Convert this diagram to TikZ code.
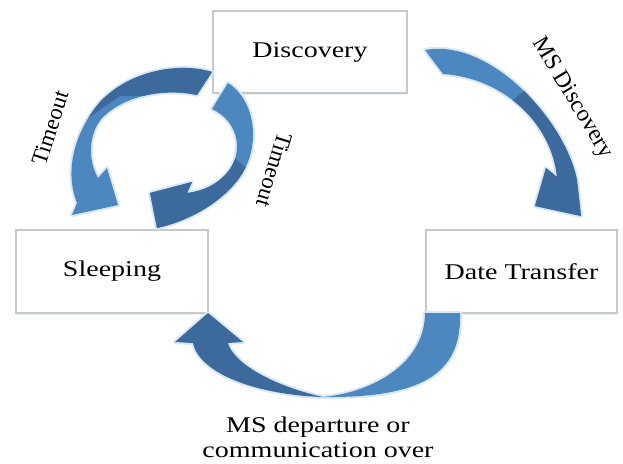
\documentclass[tikz,border=0pt]{standalone}
\usepackage{fontspec}
\usepackage{graphicx}
\setmainfont{Liberation Serif}
\usetikzlibrary{shadows}
\definecolor{arrlight}{RGB}{76,135,192}
\definecolor{arrdark}{RGB}{60,106,156}
\definecolor{glowc}{RGB}{218,231,245}
\definecolor{boxline}{RGB}{200,200,200}
\newcommand{\stretchtxt}[1]{\scalebox{1.245}[1]{#1}}
% arrow outlines (pixel coordinates, y downwards)
\newcommand{\pathA}{(212,72) .. controls (180,62) and (130,70) .. (100,102) .. controls (80,125) and (62,165) .. (77,203) -- (72,215) -- (118,205) -- (107,168) -- (98,178) .. controls (88,160) and (88,135) .. (102,118) .. controls (125,95) and (165,88) .. (197,95) -- cycle}
\newcommand{\pathB}{(228,83) .. controls (255,100) and (262,145) .. (240,177) .. controls (220,205) and (185,222) .. (157,228) -- (150,193) -- (192,182) -- (187,193) .. controls (215,190) and (238,170) .. (237,145) .. controls (236,127) and (225,115) .. (212,109) -- cycle}
\newcommand{\pathC}{(425,50) .. controls (490,38) and (565,120) .. (577,180) -- (581,216) -- (535,206) -- (546,168) -- (557,177) .. controls (552,125) and (505,78) .. (443,74) -- cycle}
\newcommand{\pathDl}{(425,313) -- (460,313) .. controls (462,375) and (420,398) .. (323,397) .. controls (375,392) and (425,362) .. (425,313) -- cycle}
\newcommand{\pathDd}{(323,397) .. controls (260,395) and (200,375) .. (193,343) -- (175,342) -- (208,313) -- (243,342) -- (228,343) .. controls (233,362) and (270,385) .. (323,397) -- cycle}
\begin{document}
\begin{tikzpicture}[x=1pt,y=-1pt,
  stbox/.style={draw=boxline, line width=1.2pt, fill=white, minimum width=#1,
    minimum height=83pt, inner sep=0pt, font=\fontsize{22.5}{27}\selectfont,
    drop shadow={shadow xshift=0pt, shadow yshift=-2pt, opacity=0.18, fill=arrlight!60}},
  lbl/.style={font=\fontsize{22.5}{25}\selectfont, xscale=1.245, inner sep=0pt},
  rlbl/.style={font=\fontsize{22.8}{25}\selectfont, inner sep=0pt},
  halo/.style={draw=glowc, line width=4pt, line join=round},
  lightfill/.style={fill=arrlight},
  darkfill/.style={fill=arrdark}]
\useasboundingbox (0,0) rectangle (623,463);
\fill[white] (0,0) rectangle (623,463);

% state boxes
\node[stbox=194pt, minimum height=82pt] (disc) at (310,52) {\stretchtxt{Discovery}};
\node[stbox=192pt] (sleep) at (112,271.5) {\stretchtxt{Sleeping}};
\node[stbox=191pt] (dt) at (521.5,271.5) {\stretchtxt{Date Transfer}};

% arrow A: left Timeout (Discovery -> Sleeping)
\path[halo] \pathA;
\fill[lightfill] \pathA;
\begin{scope}
  \clip (40,30) -- (240,30) -- (240,96) -- (120,96) -- (88,118) -- (40,118) -- cycle;
  \fill[darkfill] \pathA;
\end{scope}

% arrow B: right Timeout
\path[halo] \pathB;
\fill[lightfill] \pathB;
\begin{scope}
  \clip (130,150) -- (225,150) -- (270,188) -- (270,240) -- (130,240) -- cycle;
  \fill[darkfill] \pathB;
\end{scope}

% arrow C: MS Discovery (Discovery -> Date Transfer)
\path[halo] \pathC;
\fill[lightfill] \pathC;
\begin{scope}
  \clip (500,110) -- (545,75) -- (620,75) -- (620,240) -- (500,240) -- cycle;
  \fill[darkfill] \pathC;
\end{scope}

% arrow D: Date Transfer -> Sleeping
\path[halo] \pathDl;
\path[halo] \pathDd;
\fill[lightfill] \pathDl;
\fill[darkfill] \pathDd;

% labels
\node[rlbl, rotate=72] (tl) at (50,128) {Timeout};
\node[rlbl, rotate=-107] (tr) at (274,170) {Timeout};
\node[rlbl, font=\fontsize{23.5}{25}\selectfont, rotate=-59] (msd) at (572,98) {MS Discovery};
\node[lbl, align=center] (dep) at (318,437) {MS departure or\\communication over};
\end{tikzpicture}
\end{document}
